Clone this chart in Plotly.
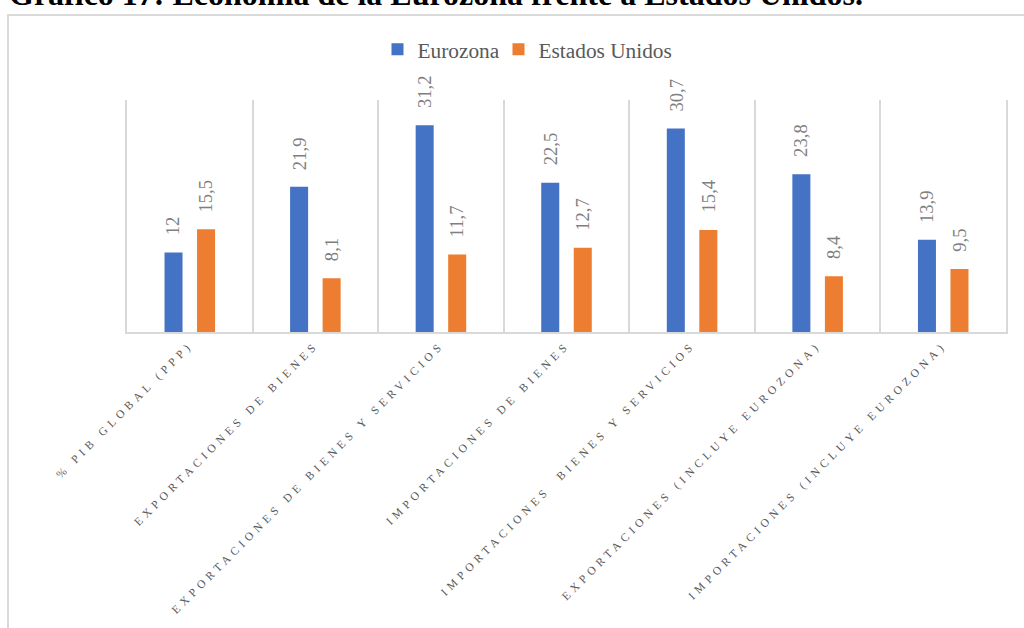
import plotly.graph_objects as go

categories = [
    "% PIB GLOBAL (PPP)",
    "EXPORTACIONES DE BIENES",
    "EXPORTACIONES DE BIENES Y SERVICIOS",
    "IMPORTACIONES DE BIENES",
    "IMPORTACIONES  BIENES Y SERVICIOS",
    "EXPORTACIONES (INCLUYE EUROZONA)",
    "IMPORTACIONES (INCLUYE EUROZONA)",
]
eurozona = [12, 21.9, 31.2, 22.5, 30.7, 23.8, 13.9]
estados_unidos = [15.5, 8.1, 11.7, 12.7, 15.4, 8.4, 9.5]
series_names = ["Eurozona", "Estados Unidos"]
title_text = "Gráfico 17: Economía de la Eurozona frente a Estados Unidos."

BLUE = "#4472C4"
ORANGE = "#ED7D31"
GRID = "#D9D9D9"
FONT = "Liberation Serif"

W, H = 1024, 628
L, R, T, B = 127, 18, 100, 296
pw = W - L - R
ph = H - T - B


def fmt(v):
    return f"{v:g}".replace(".", ",")


fig = go.Figure()
fig.add_trace(go.Bar(name=series_names[0], x=categories, y=eurozona,
                     marker=dict(color=BLUE, line=dict(width=0)),
                     legend="legend"))
fig.add_trace(go.Bar(name=series_names[1], x=categories, y=estados_unidos,
                     marker=dict(color=ORANGE, line=dict(width=0)),
                     legend="legend2"))

annotations = []
for vals, shift in ((eurozona, -16.5), (estados_unidos, 16.0)):
    for c, v in zip(categories, vals):
        annotations.append(dict(
            x=c, y=v, xref="x", yref="y", text=fmt(v), showarrow=False,
            textangle=-90, xanchor="center", yanchor="bottom",
            xshift=shift, yshift=15,
            font=dict(family=FONT, size=18.67, color="#7F7F7F"),
        ))

annotations.append(dict(
    x=(7 - L) / pw, y=(H - B - 10) / ph, xref="paper", yref="paper",
    text="<b>" + title_text + "</b>", showarrow=False,
    xanchor="left", yanchor="bottom", yshift=-4,
    font=dict(family=FONT, size=32, color="#000000"),
))

shapes = [dict(
    type="rect", xref="paper", yref="paper",
    x0=(8 - L) / pw, x1=(1032 - L) / pw,
    y0=(H - B - 660) / ph, y1=(H - B - 15) / ph,
    line=dict(color=GRID, width=2), fillcolor="rgba(0,0,0,0)", layer="below",
)]

legend_common = dict(
    orientation="h", xanchor="left", yanchor="middle",
    y=1 + (T - 49.5) / ph,
    font=dict(family=FONT, size=21.33, color="#595959"),
    bgcolor="rgba(0,0,0,0)",
)

fig.update_layout(
    width=W, height=H,
    margin=dict(l=L, r=R, t=T, b=B, pad=0),
    paper_bgcolor="white", plot_bgcolor="white",
    barmode="group", bargap=0.482, bargroupgap=0.446,
    showlegend=True,
    legend=dict(x=(377.5 - L) / pw, **legend_common),
    legend2=dict(x=(498.5 - L) / pw, **legend_common),
    annotations=annotations,
    shapes=shapes,
    xaxis=dict(
        type="category", tickson="boundaries", showgrid=True,
        gridcolor=GRID, gridwidth=1.5, showline=True, linecolor=GRID,
        linewidth=1.5, ticks="", tickangle=-45,
        tickfont=dict(family=FONT, size=11.5, color="#595959"),
        range=[-0.5, 6.5],
    ),
    yaxis=dict(
        range=[0, 35], showticklabels=False, showgrid=False, zeroline=False,
        showline=True, mirror=True, linecolor=GRID, linewidth=1.5, ticks="",
    ),
)

post = """
var gd = document.getElementById('{plot_id}');
function ls(){ gd.querySelectorAll('.xtick text').forEach(function(t){ t.style.letterSpacing='4.4px'; t.style.whiteSpace='pre'; }); }
ls();
gd.on('plotly_afterplot', ls);
"""

fig.write_html("out.html", post_script=post)
